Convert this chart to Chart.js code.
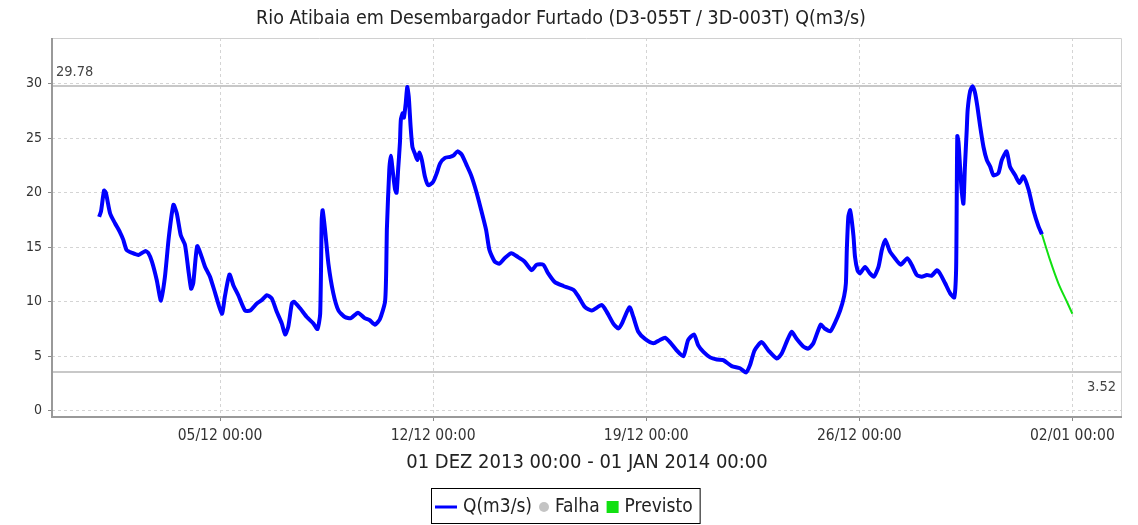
<!DOCTYPE html>
<html lang="pt-BR">
<head>
<meta charset="utf-8">
<title>Rio Atibaia em Desembargador Furtado</title>
<script src="https://cdn.jsdelivr.net/npm/chart.js@4.4.1/dist/chart.umd.min.js"></script>
<style>
  html, body { margin: 0; padding: 0; background: #fff; }
</style>
</head>
<body>
<canvas id="grafico" width="1138" height="525"></canvas>
<script>
const titulo = 'Rio Atibaia em Desembargador Furtado (D3-055T / 3D-003T) Q(m3/s)';
const periodo = '01 DEZ 2013 00:00 - 01 JAN 2014 00:00';

// dias contados a partir de 01/12/2013 00:00
const diasVazao = [
  0.03, 0.09, 0.19, 0.25, 0.39, 0.55, 0.71, 0.82, 0.93, 1.10, 1.32, 1.54, 1.64, 1.76, 1.92,
  2.06, 2.19, 2.32, 2.47, 2.58, 2.71, 2.85, 2.96, 3.05, 3.12, 3.25, 3.40, 3.51, 3.67, 3.84,
  4.06, 4.16, 4.31, 4.44, 4.60, 4.82, 4.99, 5.21, 5.37, 5.54, 5.70, 5.86, 6.03, 6.14, 6.24,
  6.36, 6.43, 6.63, 6.85, 7.07, 7.20, 7.29, 7.34, 7.37, 7.45, 7.56, 7.72, 7.89, 8.10, 8.30,
  8.53, 8.75, 8.92, 9.09, 9.25, 9.42, 9.46, 9.48, 9.56, 9.61, 9.67, 9.75, 9.80, 9.85, 9.91,
  9.94, 10.00, 10.04, 10.10, 10.15, 10.20, 10.26, 10.32, 10.40, 10.48, 10.55, 10.63, 10.73, 10.84, 11.00,
  11.12, 11.23, 11.39, 11.56, 11.66, 11.80, 11.94, 12.09, 12.25, 12.42, 12.58, 12.74, 12.85, 13.02, 13.18,
  13.35, 13.57, 13.79, 14.00, 14.24, 14.40, 14.62, 14.78, 15.00, 15.28, 15.61, 15.77, 15.99, 16.21, 16.54,
  16.70, 16.92, 17.09, 17.20, 17.45, 17.58, 17.74, 17.96, 18.24, 18.45, 18.62, 18.78, 19.00, 19.22, 19.38,
  19.57, 19.71, 19.88, 20.10, 20.32, 20.53, 20.81, 21.08, 21.28, 21.41, 21.56, 21.79, 22.01, 22.29, 22.45,
  22.64, 22.78, 22.94, 23.16, 23.32, 23.49, 23.73, 23.86, 24.05, 24.19, 24.37, 24.50, 24.56, 24.59, 24.64,
  24.70, 24.75, 24.81, 24.86, 24.94, 25.02, 25.19, 25.35, 25.48, 25.63, 25.74, 25.85, 26.01, 26.17, 26.36,
  26.58, 26.72, 26.89, 27.05, 27.22, 27.38, 27.55, 27.65, 27.82, 27.98, 28.12, 28.18, 28.20, 28.22, 28.26,
  28.31, 28.36, 28.42, 28.47, 28.53, 28.56, 28.64, 28.72, 28.80, 28.88, 28.97, 29.08, 29.19, 29.30, 29.41,
  29.57, 29.68, 29.84, 29.95, 30.12, 30.26, 30.39, 30.56, 30.72, 30.89, 31.00
];
const vazao = [
  17.8, 18.3, 20.2, 20.0, 18.1, 17.2, 16.4, 15.7, 14.75, 14.5, 14.3, 14.65, 14.5, 13.7, 12.0,
  10.1, 12.3, 16.0, 18.9, 18.1, 16.1, 15.2, 12.9, 11.2, 11.7, 15.1, 14.1, 13.2, 12.3, 10.8,
  8.9, 10.5, 12.5, 11.5, 10.6, 9.2, 9.2, 9.85, 10.15, 10.6, 10.3, 9.1, 8.0, 7.0, 7.7,
  9.85, 10.0, 9.4, 8.6, 8.0, 7.5, 8.9, 17.5, 18.4, 16.6, 13.5, 10.8, 9.2, 8.6, 8.5,
  9.0, 8.5, 8.3, 7.9, 8.4, 10.0, 13.0, 16.6, 22.1, 23.4, 22.1, 20.3, 20.0, 22.1, 24.6,
  26.7, 27.3, 26.9, 28.2, 29.7, 28.8, 26.1, 24.2, 23.6, 23.0, 23.7, 23.0, 21.5, 20.7, 21.0,
  21.8, 22.7, 23.2, 23.3, 23.4, 23.8, 23.5, 22.6, 21.6, 20.1, 18.4, 16.6, 14.75, 13.7, 13.5,
  14.0, 14.45, 14.1, 13.7, 12.9, 13.4, 13.4, 12.6, 11.8, 11.45, 11.1, 10.5, 9.5, 9.2, 9.7,
  9.1, 8.0, 7.55, 8.0, 9.5, 8.6, 7.25, 6.6, 6.2, 6.5, 6.7, 6.3, 5.55, 5.0, 6.5,
  7.0, 6.0, 5.4, 4.9, 4.7, 4.65, 4.1, 3.9, 3.52, 4.2, 5.55, 6.3, 5.55, 4.8, 5.25,
  6.5, 7.25, 6.6, 5.9, 5.7, 6.2, 7.9, 7.55, 7.3, 8.0, 9.2, 10.5, 11.7, 14.75, 17.8,
  18.4, 17.5, 16.0, 14.1, 12.9, 12.6, 13.2, 12.6, 12.3, 13.2, 14.75, 15.7, 14.6, 14.0, 13.4,
  14.0, 13.4, 12.45, 12.3, 12.45, 12.4, 12.9, 12.6, 11.7, 10.8, 10.4, 12.9, 19.0, 25.2, 24.6,
  22.4, 20.3, 19.0, 22.4, 25.8, 27.6, 29.3, 29.78, 29.2, 27.9, 26.1, 24.2, 23.0, 22.4, 21.6,
  21.8, 23.0, 23.8, 22.4, 21.6, 20.9, 21.5, 20.3, 18.4, 16.9, 16.2
];
const diasPrevisto = [31.00, 31.27, 31.54, 31.82, 32.00];
const previsto = [16.2, 13.8, 11.7, 10.0, 8.9];

const diasTicks = [4, 11, 18, 25, 32];
const rotulosTicks = ['05/12 00:00', '12/12 00:00', '19/12 00:00', '26/12 00:00', '02/01 00:00'];
const ticksY = [0, 5, 10, 15, 20, 25, 30];

const vazaoMax = 29.78;
const vazaoMin = 3.52;
const legendas = ['Q(m3/s)', 'Falha', 'Previsto'];

const fonte = "'DejaVu Sans Condensed', 'DejaVu Sans', sans-serif";
const corAzul = '#0000ff';
const corVerde = '#11e011';
const corFalha = '#c4c4c4';

const pontos = (xs, ys) => xs.map((x, i) => ({ x: x, y: ys[i] }));

// linhas de maximo / minimo com rotulo
const linhasRef = {
  id: 'linhasRef',
  beforeDatasetsDraw(chart) {
    const { ctx, chartArea: a, scales: { y } } = chart;
    ctx.save();
    ctx.strokeStyle = '#c8c8c8';
    ctx.lineWidth = 2;
    [vazaoMax, vazaoMin].forEach(v => {
      const py = Math.round(y.getPixelForValue(v));
      ctx.beginPath();
      ctx.moveTo(a.left, py);
      ctx.lineTo(a.right, py);
      ctx.stroke();
    });
    ctx.fillStyle = '#444';
    ctx.font = '14.5px ' + fonte;
    ctx.textAlign = 'left';
    ctx.textBaseline = 'bottom';
    ctx.fillText(vazaoMax.toFixed(2), a.left + 4, y.getPixelForValue(vazaoMax) - 7);
    ctx.textAlign = 'right';
    ctx.textBaseline = 'top';
    ctx.fillText(vazaoMin.toFixed(2), a.right - 6, y.getPixelForValue(vazaoMin) + 8);
    ctx.restore();
  }
};

// moldura da area de plotagem
const moldura = {
  id: 'moldura',
  afterDatasetsDraw(chart) {
    const { ctx, chartArea: a } = chart;
    ctx.save();
    ctx.strokeStyle = '#d0d0d0';
    ctx.lineWidth = 1;
    ctx.beginPath();
    ctx.moveTo(a.left, a.top + 0.5);
    ctx.lineTo(a.right - 0.5, a.top + 0.5);
    ctx.lineTo(a.right - 0.5, a.bottom);
    ctx.stroke();
    ctx.strokeStyle = '#999';
    ctx.lineWidth = 2;
    ctx.beginPath();
    ctx.moveTo(a.left, a.top);
    ctx.lineTo(a.left, a.bottom);
    ctx.lineTo(a.right, a.bottom);
    ctx.stroke();
    ctx.restore();
  }
};

// legenda com borda, abaixo do eixo
const legendaCaixa = {
  id: 'legendaCaixa',
  afterDraw(chart) {
    const ctx = chart.ctx;
    ctx.save();
    ctx.font = '19px ' + fonte;
    ctx.textBaseline = 'middle';
    const cy = 507;
    const larguras = legendas.map(t => ctx.measureText(t).width);
    const simbolos = [22, 10, 12];
    let total = 4;
    legendas.forEach((t, i) => { total += simbolos[i] + 6 + larguras[i] + 7; });
    let x = Math.round(565 - total / 2);
    ctx.strokeStyle = '#000';
    ctx.lineWidth = 1;
    ctx.strokeRect(x + 0.5, 488.5, total, 35);
    x += 4;
    legendas.forEach((t, i) => {
      if (i === 0) {
        ctx.strokeStyle = corAzul;
        ctx.lineWidth = 3;
        ctx.beginPath();
        ctx.moveTo(x, cy);
        ctx.lineTo(x + simbolos[0], cy);
        ctx.stroke();
      } else if (i === 1) {
        ctx.fillStyle = corFalha;
        ctx.beginPath();
        ctx.arc(x + 5, cy, 5, 0, Math.PI * 2);
        ctx.fill();
      } else {
        ctx.fillStyle = corVerde;
        ctx.fillRect(x, cy - 6, 12, 12);
      }
      x += simbolos[i] + 6;
      ctx.fillStyle = '#222';
      ctx.fillText(t, x, cy);
      x += larguras[i] + 7;
    });
    ctx.restore();
  }
};

new Chart(document.getElementById('grafico'), {
  type: 'line',
  data: {
    datasets: [
      {
        label: legendas[0],
        data: pontos(diasVazao, vazao),
        borderColor: corAzul,
        borderWidth: 4,
        pointRadius: 0,
        tension: 0.2
      },
      {
        label: legendas[2],
        data: pontos(diasPrevisto, previsto),
        borderColor: corVerde,
        borderWidth: 2,
        pointRadius: 0,
        tension: 0.3
      }
    ]
  },
  options: {
    responsive: false,
    animation: false,
    layout: { padding: { left: 0, right: 16, top: 0, bottom: 46 } },
    plugins: {
      legend: { display: false },
      tooltip: { enabled: false },
      title: {
        display: true,
        text: titulo,
        color: '#222',
        font: { family: fonte, size: 19.5, weight: 'normal', lineHeight: 1 },
        padding: { top: 9, bottom: 9.5 }
      }
    },
    scales: {
      x: {
        type: 'linear',
        min: -1.52,
        max: 33.63,
        afterBuildTicks: s => { s.ticks = diasTicks.map(v => ({ value: v })); },
        afterFit: s => { s.height = 62; },
        ticks: {
          callback: v => rotulosTicks[diasTicks.indexOf(v)],
          color: '#333',
          font: { family: fonte, size: 15.5 },
          maxRotation: 0,
          autoSkip: false,
          padding: 6
        },
        grid: { color: '#d4d4d4', tickColor: '#888', tickLength: 4, tickBorderDash: [] },
        border: { display: false, dash: [3, 3] },
        title: {
          display: true,
          text: periodo,
          color: '#222',
          font: { family: fonte, size: 20 },
          padding: { top: 6, bottom: 4 }
        }
      },
      y: {
        min: -0.57,
        max: 34.2,
        afterBuildTicks: s => { s.ticks = ticksY.map(v => ({ value: v })); },
        afterFit: s => { s.width = 52; },
        ticks: {
          color: '#333',
          font: { family: fonte, size: 14 },
          padding: 6
        },
        grid: { color: '#d4d4d4', tickColor: '#888', tickLength: 4, tickBorderDash: [] },
        border: { display: false, dash: [3, 3] }
      }
    }
  },
  plugins: [linhasRef, moldura, legendaCaixa]
});
</script>
</body>
</html>
